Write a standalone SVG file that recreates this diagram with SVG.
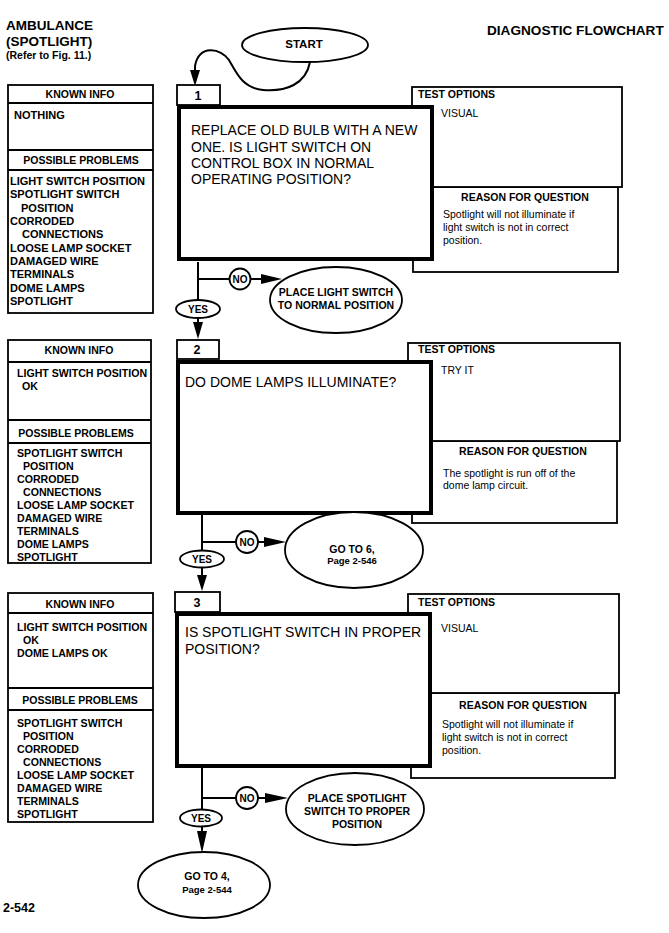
<svg xmlns="http://www.w3.org/2000/svg" width="669" height="933" viewBox="0 0 669 933">
<style>
text{font-family:"Liberation Sans",Arial,sans-serif;fill:#000}
.b{font-weight:bold}
.h{font-weight:bold;font-size:10.5px}
.hc{font-weight:bold;font-size:10.5px;text-anchor:middle}
.li{font-weight:bold;font-size:10.6px}
.li1{font-weight:bold;font-size:11px}
.q{font-size:14px}
.r{font-size:10.5px}
.tv{font-size:10.5px}
.el{font-weight:bold;font-size:10.5px;text-anchor:middle}
.yn{font-weight:bold;font-size:10px;text-anchor:middle}
.box{fill:#fff;stroke:#000;stroke-width:1.8}
.main{fill:#fff;stroke:#000;stroke-width:4}
.ln{fill:none;stroke:#000;stroke-width:2}
.ah{fill:#000}
</style>
<rect width="669" height="933" fill="#fff"/>
<g id="title">
<text x="6" y="30" class="b" font-size="13.5">AMBULANCE</text>
<text x="6" y="46" class="b" font-size="13.5">(SPOTLIGHT)</text>
<text x="6" y="59" class="b" font-size="10.5">(Refer to Fig. 11.)</text>
<text x="487" y="35" class="b" font-size="13.6">DIAGNOSTIC FLOWCHART</text>
<text x="3" y="912" class="b" font-size="12.5">2-542</text>
</g>
<g id="connectors">
<path class="ln" d="M310,62 C306,84 286,92 263,90 C242,88 236,72 229,60 C221,48 199,44 195,66 L195,72"/>
<polygon class="ah" points="190,70 200,70 195,86"/>
<line class="ln" x1="198" y1="262" x2="198" y2="300"/>
<line class="ln" x1="198" y1="279" x2="229" y2="279"/>
<line class="ln" x1="250" y1="279" x2="264" y2="279"/>
<polygon class="ah" points="261,274 261,284 282,279"/>
<line class="ln" x1="198" y1="318" x2="198" y2="324"/>
<polygon class="ah" points="193,322 203,322 198,339"/>
<line class="ln" x1="202" y1="515" x2="202" y2="551"/>
<line class="ln" x1="202" y1="542" x2="236" y2="542"/>
<line class="ln" x1="258" y1="542" x2="268" y2="542"/>
<polygon class="ah" points="264,537 264,547 286,542"/>
<line class="ln" x1="202" y1="567" x2="202" y2="577"/>
<polygon class="ah" points="197,575 207,575 202,591"/>
<line class="ln" x1="202" y1="768" x2="202" y2="810"/>
<line class="ln" x1="202" y1="798" x2="236" y2="798"/>
<line class="ln" x1="258" y1="798" x2="268" y2="798"/>
<polygon class="ah" points="265,793 265,803 288,798"/>
<line class="ln" x1="202" y1="827" x2="202" y2="834"/>
<polygon class="ah" points="197,831 207,831 202,853"/>
</g>
<g id="start">
<ellipse class="box" cx="305" cy="45" rx="63" ry="17" stroke-width="2.2"/>
<text x="304" y="48" class="b" font-size="11.5" text-anchor="middle">START</text>
</g>
<g id="known1">
<rect class="box" x="8" y="85" width="145" height="228"/>
<line class="ln" x1="8" y1="103" x2="153" y2="103" stroke-width="1.8"/>
<line class="ln" x1="8" y1="150" x2="153" y2="150" stroke-width="1.8"/>
<line class="ln" x1="8" y1="170" x2="153" y2="170" stroke-width="1.8"/>
<text x="80" y="98" class="hc">KNOWN INFO</text>
<text x="14" y="119" class="li1">NOTHING</text>
<text x="81" y="164" class="hc" font-size="11">POSSIBLE PROBLEMS</text>
<text class="li1"><tspan x="10" y="185">LIGHT SWITCH POSITION</tspan><tspan x="10" y="198">SPOTLIGHT SWITCH</tspan><tspan x="21" y="212">POSITION</tspan><tspan x="10" y="225">CORRODED</tspan><tspan x="22" y="238">CONNECTIONS</tspan><tspan x="10" y="252">LOOSE LAMP SOCKET</tspan><tspan x="10" y="265">DAMAGED WIRE</tspan><tspan x="10" y="278">TERMINALS</tspan><tspan x="10" y="292">DOME LAMPS</tspan><tspan x="10" y="305">SPOTLIGHT</tspan></text>
</g>
<g id="test1">
<rect class="box" x="413" y="187" width="205" height="85"/>
<rect class="box" x="412" y="87" width="210" height="100"/>
<text x="418" y="98" class="h">TEST OPTIONS</text>
<text x="441" y="117" class="tv">VISUAL</text>
<text x="525" y="201" class="hc">REASON FOR QUESTION</text>
<text class="r"><tspan x="443" y="218">Spotlight will not illuminate if</tspan><tspan x="443" y="231">light switch is not in correct</tspan><tspan x="443" y="244">position.</tspan></text>
</g>
<g id="step1">
<rect class="box" x="177" y="85" width="43" height="20"/>
<text x="198" y="100" class="b" font-size="12.5" text-anchor="middle">1</text>
<rect class="main" x="179" y="107" width="253" height="152"/>
<text class="q"><tspan x="191" y="135">REPLACE OLD BULB WITH A NEW</tspan><tspan x="191" y="151.5">ONE. IS LIGHT SWITCH ON</tspan><tspan x="191" y="167.5">CONTROL BOX IN NORMAL</tspan><tspan x="191" y="183.5">OPERATING POSITION?</tspan></text>
</g>
<g id="no1">
<circle class="box" cx="240" cy="279" r="10.5" stroke-width="2"/>
<text x="240" y="283" class="yn">NO</text>
</g>
<g id="yes1">
<ellipse class="box" cx="198" cy="309" rx="22" ry="9" stroke-width="2"/>
<text x="198" y="313" class="yn">YES</text>
</g>
<g id="fix1">
<ellipse class="box" cx="336" cy="300" rx="66" ry="33" stroke-width="2.2"/>
<text class="el"><tspan x="336" y="296">PLACE LIGHT SWITCH</tspan><tspan x="336" y="309">TO NORMAL POSITION</tspan></text>
</g>
<g id="known2">
<rect class="box" x="8" y="340" width="143" height="223"/>
<line class="ln" x1="8" y1="362" x2="151" y2="362" stroke-width="1.8"/>
<line class="ln" x1="8" y1="420" x2="151" y2="420" stroke-width="1.8"/>
<line class="ln" x1="8" y1="443" x2="151" y2="443" stroke-width="1.8"/>
<text x="79" y="354" class="hc">KNOWN INFO</text>
<text class="li"><tspan x="17" y="377">LIGHT SWITCH POSITION</tspan><tspan x="22" y="390">OK</tspan></text>
<text x="76" y="437" class="hc">POSSIBLE PROBLEMS</text>
<text class="li"><tspan x="17" y="457">SPOTLIGHT SWITCH</tspan><tspan x="23" y="470">POSITION</tspan><tspan x="17" y="483">CORRODED</tspan><tspan x="23" y="496">CONNECTIONS</tspan><tspan x="17" y="509">LOOSE LAMP SOCKET</tspan><tspan x="17" y="522">DAMAGED WIRE</tspan><tspan x="17" y="535">TERMINALS</tspan><tspan x="17" y="548">DOME LAMPS</tspan><tspan x="17" y="561">SPOTLIGHT</tspan></text>
</g>
<g id="test2">
<rect class="box" x="412" y="441" width="205" height="82"/>
<rect class="box" x="408" y="343" width="212" height="98"/>
<text x="418" y="353" class="h">TEST OPTIONS</text>
<text x="441" y="374" class="tv">TRY IT</text>
<text x="523" y="455" class="hc">REASON FOR QUESTION</text>
<text class="r"><tspan x="443" y="477">The spotlight is run off of the</tspan><tspan x="443" y="489">dome lamp circuit.</tspan></text>
</g>
<g id="step2">
<rect class="box" x="177" y="340" width="42" height="19"/>
<text x="197" y="354" class="b" font-size="12.5" text-anchor="middle">2</text>
<rect class="main" x="178" y="362" width="253" height="151"/>
<text x="185" y="387" class="q">DO DOME LAMPS ILLUMINATE?</text>
</g>
<g id="no2">
<circle class="box" cx="247" cy="542" r="11" stroke-width="2"/>
<text x="247" y="546" class="yn">NO</text>
</g>
<g id="yes2">
<ellipse class="box" cx="202" cy="559" rx="22" ry="8.5" stroke-width="2"/>
<text x="202" y="563" class="yn">YES</text>
</g>
<g id="goto6">
<ellipse class="box" cx="354" cy="550" rx="69" ry="38" stroke-width="2.2"/>
<text class="el"><tspan x="352" y="553">GO TO 6,</tspan><tspan x="352" y="564" font-size="9.5">Page 2-546</tspan></text>
</g>
<g id="known3">
<rect class="box" x="8" y="593" width="145" height="229"/>
<line class="ln" x1="8" y1="613" x2="153" y2="613" stroke-width="1.8"/>
<line class="ln" x1="8" y1="688" x2="153" y2="688" stroke-width="1.8"/>
<line class="ln" x1="8" y1="710" x2="153" y2="710" stroke-width="1.8"/>
<text x="80" y="608" class="hc">KNOWN INFO</text>
<text class="li"><tspan x="17" y="631">LIGHT SWITCH POSITION</tspan><tspan x="23" y="644">OK</tspan><tspan x="17" y="657">DOME LAMPS OK</tspan></text>
<text x="80" y="704" class="hc">POSSIBLE PROBLEMS</text>
<text class="li"><tspan x="17" y="727">SPOTLIGHT SWITCH</tspan><tspan x="23" y="740">POSITION</tspan><tspan x="17" y="753">CORRODED</tspan><tspan x="23" y="766">CONNECTIONS</tspan><tspan x="17" y="779">LOOSE LAMP SOCKET</tspan><tspan x="17" y="792">DAMAGED WIRE</tspan><tspan x="17" y="805">TERMINALS</tspan><tspan x="17" y="818">SPOTLIGHT</tspan></text>
</g>
<g id="test3">
<rect class="box" x="411" y="693" width="204" height="85"/>
<rect class="box" x="408" y="594" width="211" height="99"/>
<text x="418" y="606" class="h">TEST OPTIONS</text>
<text x="441" y="632" class="tv">VISUAL</text>
<text x="523" y="709" class="hc">REASON FOR QUESTION</text>
<text class="r"><tspan x="442" y="728">Spotlight will not illuminate if</tspan><tspan x="442" y="741">light switch is not in correct</tspan><tspan x="442" y="754">position.</tspan></text>
</g>
<g id="step3">
<rect class="box" x="175" y="592" width="45" height="20"/>
<text x="197" y="607" class="b" font-size="12.5" text-anchor="middle">3</text>
<rect class="main" x="177" y="614" width="253" height="152"/>
<text class="q"><tspan x="185" y="637">IS SPOTLIGHT SWITCH IN PROPER</tspan><tspan x="185" y="654">POSITION?</tspan></text>
</g>
<g id="no3">
<circle class="box" cx="247" cy="798" r="11" stroke-width="2"/>
<text x="247" y="802" class="yn">NO</text>
</g>
<g id="yes3">
<ellipse class="box" cx="201" cy="818" rx="21" ry="8.5" stroke-width="2"/>
<text x="201" y="822" class="yn">YES</text>
</g>
<g id="fix3">
<ellipse class="box" cx="355" cy="809" rx="69" ry="36" stroke-width="2.2"/>
<text class="el"><tspan x="357" y="802">PLACE SPOTLIGHT</tspan><tspan x="357" y="815">SWITCH TO PROPER</tspan><tspan x="357" y="828">POSITION</tspan></text>
</g>
<g id="goto4">
<ellipse class="box" cx="204" cy="885" rx="66" ry="33" stroke-width="2.2"/>
<text class="el"><tspan x="207" y="880">GO TO 4,</tspan><tspan x="207" y="893" font-size="9.5">Page 2-544</tspan></text>
</g>
</svg>
